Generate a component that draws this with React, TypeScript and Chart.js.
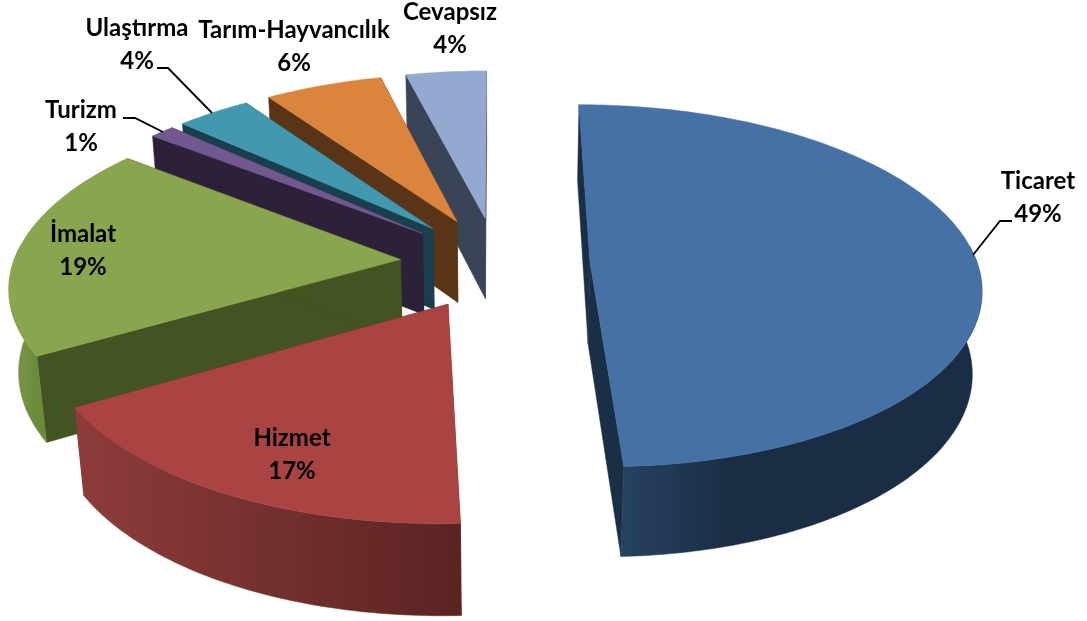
import React, { useEffect, useRef } from "react";
import { Chart, registerables } from "chart.js";

Chart.register(...registerables);

const categories = ["Ticaret", "Hizmet", "İmalat", "Turizm", "Ulaştırma", "Tarım-Hayvancılık", "Cevapsız"];
const shares = [49.3, 17.2, 19.1, 1.2, 3.6, 5.7, 3.9];
const explode = [93, 100, 97, 100, 100, 100, 100];
const topColors = ["#4571A4", "#A94442", "#89A54E", "#71588F", "#4198AF", "#DB843D", "#93A9CF"];
const wallColors = ["#1A2E46", "#5D2523", "#435322", "#2C2139", "#193F4C", "#5A3417", "#3A4456"];
const rimLeft = ["#26425F", "#8E3C39", "#7C9A48", "#3A2C4C", "#23596A", "#7A4A20", "#50607A"];
const rimRight = ["#1A2D45", "#5A2423", "#6A8A3C", "#2C2139", "#193F4C", "#5A3417", "#3A4456"];

// text centres and leader polylines for the data labels
const labelAt: [number, number][] = [
  [1038, 181], [292, 438], [83, 234], [81, 110], [137, 28], [294, 30], [450, 12],
];
const leaders: Record<number, [number, number][]> = {
  0: [[973, 255], [1000, 221], [1012, 221]],
  3: [[163, 132], [135, 118], [123, 118]],
  4: [[212, 113], [168, 68], [157, 68]],
};

const PLANE_R = 387;
const DIST = 2900;
const TILT = 0.46;
const DEPTH = 84;
const DEPTH_PERSP = 58;

const pie3d = {
  id: "pie3d",
  beforeDatasetDraw(chart: any) {
    const ctx = chart.ctx as CanvasRenderingContext2D;
    const arcs = chart.getDatasetMeta(0).data as any[];
    const order = [6, 5, 4, 3, 2, 1, 0];
    for (const i of order) {
      const a = arcs[i];
      const k = PLANE_R / a.outerRadius;
      const mid = (a.startAngle + a.endAngle) / 2;
      const ox = Math.cos(mid) * explode[i];
      const oz = Math.sin(mid) * explode[i];
      const proj = (px: number, pz: number, lvl: number): [number, number] => {
        const s = DIST / (DIST - pz + lvl * DEPTH_PERSP);
        return [a.x + px * s, a.y + (TILT * pz + lvl * DEPTH) * s];
      };
      const rim: [number, number][] = [];
      const n = Math.max(4, Math.ceil((a.endAngle - a.startAngle) * 60));
      for (let j = 0; j <= n; j++) {
        const t = a.startAngle + ((a.endAngle - a.startAngle) * j) / n;
        rim.push([ox + Math.cos(t) * a.outerRadius * k, oz + Math.sin(t) * a.outerRadius * k]);
      }
      const poly = (pts: [number, number][], fill: string | CanvasGradient) => {
        ctx.beginPath();
        pts.forEach((p, idx) => (idx ? ctx.lineTo(p[0], p[1]) : ctx.moveTo(p[0], p[1])));
        ctx.closePath();
        ctx.fillStyle = fill;
        ctx.fill();
        ctx.strokeStyle = fill;
        ctx.lineWidth = 0.5;
        ctx.stroke();
      };
      const first = rim[0];
      const last = rim[rim.length - 1];
      poly([proj(ox, oz, 0), proj(first[0], first[1], 0), proj(first[0], first[1], 1), proj(ox, oz, 1)], wallColors[i]);
      poly([proj(ox, oz, 0), proj(last[0], last[1], 0), proj(last[0], last[1], 1), proj(ox, oz, 1)], wallColors[i]);
      const top = rim.map((p) => proj(p[0], p[1], 0));
      const bottom = rim.map((p) => proj(p[0], p[1], 1));
      const frontPts = rim.map((p, idx) => ({ p, idx })).filter((e) => e.p[1] > -40);
      if (frontPts.length > 1) {
        const fx = frontPts.map((e) => top[e.idx][0]);
        const grad = ctx.createLinearGradient(Math.min(...fx), 0, Math.max(...fx), 0);
        grad.addColorStop(0, rimLeft[i]);
        grad.addColorStop(i === 0 ? 0.3 : 1, rimRight[i]);
        grad.addColorStop(1, rimRight[i]);
        const ftop = frontPts.map((e) => top[e.idx]);
        const fbot = frontPts.map((e) => bottom[e.idx]).reverse();
        poly(ftop.concat(fbot), grad);
      }
      poly([proj(ox, oz, 0), ...top], topColors[i]);
    }
    return false;
  },
  afterDatasetsDraw(chart: any) {
    const ctx = chart.ctx as CanvasRenderingContext2D;
    ctx.save();
    ctx.strokeStyle = "#000";
    ctx.lineWidth = 1.8;
    Object.values(leaders).forEach((pts) => {
      ctx.beginPath();
      pts.forEach((p, idx) => (idx ? ctx.lineTo(p[0], p[1]) : ctx.moveTo(p[0], p[1])));
      ctx.stroke();
    });
    ctx.fillStyle = "#000";
    ctx.font = 'bold 24px Lato, "Open Sans", sans-serif';
    ctx.textAlign = "center";
    ctx.textBaseline = "middle";
    categories.forEach((c, i) => {
      ctx.fillText(c, labelAt[i][0], labelAt[i][1]);
      ctx.fillText(Math.round(shares[i]) + "%", labelAt[i][0], labelAt[i][1] + 33);
    });
    ctx.restore();
  },
};

export default function App() {
  const ref = useRef<HTMLCanvasElement>(null);
  useEffect(() => {
    document.body.style.margin = "0";
    document.body.style.background = "#fff";
    const chart = new Chart(ref.current!, {
      type: "pie",
      data: {
        labels: categories,
        datasets: [{ data: shares, backgroundColor: topColors, borderWidth: 0 }],
      },
      options: {
        responsive: false,
        animation: false,
        layout: { padding: { left: 0, top: 0, right: 93, bottom: 96 } },
        plugins: { legend: { display: false }, tooltip: { enabled: false } },
      },
      plugins: [pie3d],
    } as any);
    return () => chart.destroy();
  }, []);
  return (
    <div style={{ position: "fixed", inset: 0, overflow: "hidden", background: "#fff" }}>
      <canvas ref={ref} width={1087} height={621} style={{ display: "block" }} />
    </div>
  );
}
